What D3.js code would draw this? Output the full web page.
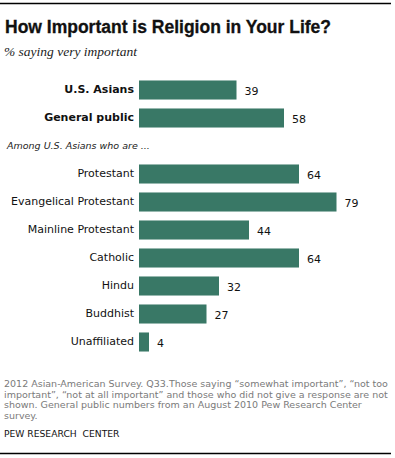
<!DOCTYPE html>
<html>
<head>
<meta charset="utf-8">
<script src="https://cdn.jsdelivr.net/npm/d3@7"></script>
<style>
  body { margin: 0; background: #fff; }
  svg { display: block; }
</style>
</head>
<body>
<div id="chart"></div>
<script>
// values
var topCategories = ["U.S. Asians", "General public"]
var topValues = [39, 58]
var groupCategories = ["Protestant", "Evangelical Protestant", "Mainline Protestant", "Catholic", "Hindu", "Buddhist", "Unaffiliated"]
var groupValues = [64, 79, 44, 64, 32, 27, 4]
var noteLines = [
  "2012 Asian-American Survey. Q33.Those saying \u201csomewhat important\u201d, \u201cnot too",
  "important\u201d, \u201cnot at all important\u201d and those who did not give a response are not",
  "shown. General public numbers from an August 2010 Pew Research Center",
  "survey."
]

var width = 395
var height = 458
var barColor = "#397866"
var labelFont = "Tahoma, 'DejaVu Sans', sans-serif"

var svg = d3.select("#chart")
  .append("svg")
  .attr("width", width)
  .attr("height", height)

svg.append("line")
  .attr("x1", 0).attr("x2", 391)
  .attr("y1", 3.5).attr("y2", 3.5)
  .attr("stroke", "#000")
  .attr("stroke-width", 1.5)

svg.append("text")
  .text("How Important is Religion in Your Life?")
  .attr("x", 5).attr("y", 33)
  .attr("font-family", "'Liberation Sans', Arial, sans-serif")
  .attr("font-weight", "bold")
  .attr("font-size", 17.5)
  .attr("fill", "#111")
  .attr("stroke", "#111")
  .attr("stroke-width", 0.3)

svg.append("text")
  .text("% saying very important")
  .attr("x", 4).attr("y", 56)
  .attr("font-family", "'Liberation Serif', Georgia, serif")
  .attr("font-style", "italic")
  .attr("font-size", 13.5)
  .attr("fill", "#222")

// shared x scale: 0 at x=139, about 2.5px per point
var x = d3.scaleLinear().domain([0, 100]).range([139, 389])

var yTop = d3.scaleBand()
  .domain(topCategories)
  .range([76, 132])
  .paddingInner(0.32)
  .paddingOuter(0.16)

var yGroup = d3.scaleBand()
  .domain(groupCategories)
  .range([160, 356])
  .paddingInner(0.32)
  .paddingOuter(0.16)

function drawRows(cats, vals, y, bold) {
  var g = svg.append("g")
  var rows = g.selectAll("g.row")
    .data(cats.map(function (c, i) { return { name: c, value: vals[i] } }))
    .enter()
    .append("g")
    .attr("class", "row")

  rows.append("rect")
    .attr("x", x(0))
    .attr("y", function (d) { return y(d.name) })
    .attr("width", function (d) { return x(d.value) - x(0) })
    .attr("height", y.bandwidth())
    .attr("fill", barColor)

  rows.append("text")
    .text(function (d) { return d.name })
    .attr("x", x(0) - 5)
    .attr("y", function (d) { return y(d.name) + y.bandwidth() / 2 })
    .attr("dy", "0.3em")
    .attr("text-anchor", "end")
    .attr("font-family", labelFont)
    .attr("font-weight", bold ? "bold" : "normal")
    .attr("font-size", 11)
    .attr("fill", "#111")

  rows.append("text")
    .text(function (d) { return d.value })
    .attr("x", function (d) { return x(d.value) + 8 })
    .attr("y", function (d) { return y(d.name) + y.bandwidth() / 2 + 1 })
    .attr("dy", "0.35em")
    .attr("font-family", labelFont)
    .attr("font-size", 11)
    .attr("fill", "#111")
}

drawRows(topCategories, topValues, yTop, true)
drawRows(groupCategories, groupValues, yGroup, false)

svg.append("text")
  .text("Among U.S. Asians who are ...")
  .attr("x", 7).attr("y", 149)
  .attr("font-family", labelFont)
  .attr("font-style", "italic")
  .attr("font-size", 9.5)
  .attr("fill", "#222")

svg.append("g")
  .selectAll("text")
  .data(noteLines)
  .enter()
  .append("text")
  .text(function (d) { return d })
  .attr("x", 4)
  .attr("y", function (d, i) { return 387 + i * 10.5 })
  .attr("font-family", labelFont)
  .attr("font-size", 9.5)
  .attr("fill", "#7a7a7a")

svg.append("text")
  .text("PEW RESEARCH  CENTER")
  .attr("x", 4).attr("y", 437)
  .attr("font-family", labelFont)
  .attr("font-size", 9.2)
  .attr("fill", "#111")
  .style("white-space", "pre")

svg.append("line")
  .attr("x1", 0).attr("x2", 391)
  .attr("y1", 453.5).attr("y2", 453.5)
  .attr("stroke", "#000")
  .attr("stroke-width", 1.5)
</script>
</body>
</html>
